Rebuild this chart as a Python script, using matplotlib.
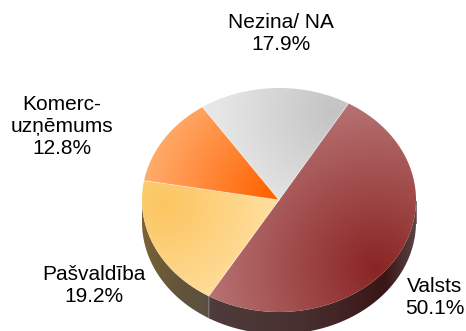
import numpy as np
import matplotlib.pyplot as plt
from matplotlib.patches import Polygon
from matplotlib.colors import to_rgb

labels = ["Valsts", "Pašvaldība", "Komerc-\nuzņēmums", "Nezina/ NA"]
shares = [50.1, 19.2, 12.8, 17.9]

# top face shading: (deep colour, pale colour, deep spot, reach in px)
top_shade = [
    ("#8a2424", "#b97676", (376, 268), 175),
    ("#fcc560", "#ffe0a2", (165, 205), 115),
    ("#ff6200", "#ffaa6a", (272, 196), 125),
    ("#c3c3c3", "#e6e6e6", (335, 112), 115),
]
# side wall shading along x: list of (x, colour)
side_shade = [
    [(205, "#4f3c3c"), (300, "#493030"), (385, "#3a1616"), (418, "#5c4646")],
    [(140, "#7c6236"), (180, "#63543a"), (212, "#5a5042")],
    [(140, "#9a5a30"), (212, "#7a4a2a")],
    [(140, "#909090"), (420, "#909090")],
]
label_pos = [(435, 297), (94, 286), (62, 126), (281, 33)]

W, H = 466, 331
cx, cy, a, b, depth = 279, 200, 137, 112, 22
start = 59.5

fig = plt.figure(figsize=(W / 100, H / 100), dpi=100)
ax = fig.add_axes([0, 0, 1, 1])
ax.set_xlim(0, W)
ax.set_ylim(H, 0)
ax.axis("off")

X, Y = np.meshgrid(np.arange(W) + 0.5, np.arange(H) + 0.5)


def radial(c_deep, c_pale, spot, reach):
    t = np.clip(np.hypot(X - spot[0], Y - spot[1]) / reach, 0, 1)[..., None]
    return (1 - t) * np.array(to_rgb(c_deep)) + t * np.array(to_rgb(c_pale))


def along_x(stops):
    xs = [s[0] for s in stops]
    cols = np.array([to_rgb(s[1]) for s in stops])
    img = np.stack([np.interp(X, xs, cols[:, k]) for k in range(3)], axis=-1)
    return img


def fill(pts, img, z):
    patch = Polygon(pts, closed=True, facecolor="none", edgecolor="none", zorder=z)
    ax.add_patch(patch)
    im = ax.imshow(img, extent=(0, W, H, 0), origin="upper", zorder=z,
                   interpolation="bilinear")
    im.set_clip_path(patch)


def rim(t):
    return cx + a * np.cos(t), cy - b * np.sin(t)


bounds = start - np.concatenate([[0], np.cumsum(shares)]) * 3.6
wedges = [(bounds[i], bounds[i + 1]) for i in range(len(shares))]

# side walls (only the front half, sin < 0, is visible)
for (t0, t1), stops in zip(wedges, side_shade):
    lo, hi = sorted([t0, t1])
    ts = np.radians(np.linspace(lo, hi, 200))
    ts = ts[np.sin(ts) < 0]
    if len(ts) < 2:
        continue
    x, y = rim(ts)
    pts = np.vstack([np.c_[x, y], np.c_[x[::-1], y[::-1] + depth]])
    fill(pts, along_x(stops), 1)
    ax.plot([x[-1], x[-1]], [y[-1], y[-1] + depth], color="#6a5a5a", lw=0.6, zorder=2)

# top faces
for (t0, t1), shade in zip(wedges, top_shade):
    ts = np.radians(np.linspace(t0, t1, 200))
    x, y = rim(ts)
    pts = np.vstack([[cx, cy], np.c_[x, y]])
    fill(pts, radial(*shade), 3)
    ax.plot([cx, x[0]], [cy, y[0]], color="white", lw=0.6, alpha=0.5, zorder=4)

for text, pct, (lx, ly) in zip(labels, shares, label_pos):
    ax.text(lx, ly, f"{text}\n{pct:.1f}%", ha="center", va="center",
            fontsize=15, family="Liberation Sans", color="black",
            linespacing=1.2, zorder=5)

fig.savefig("out.png", dpi=100)
